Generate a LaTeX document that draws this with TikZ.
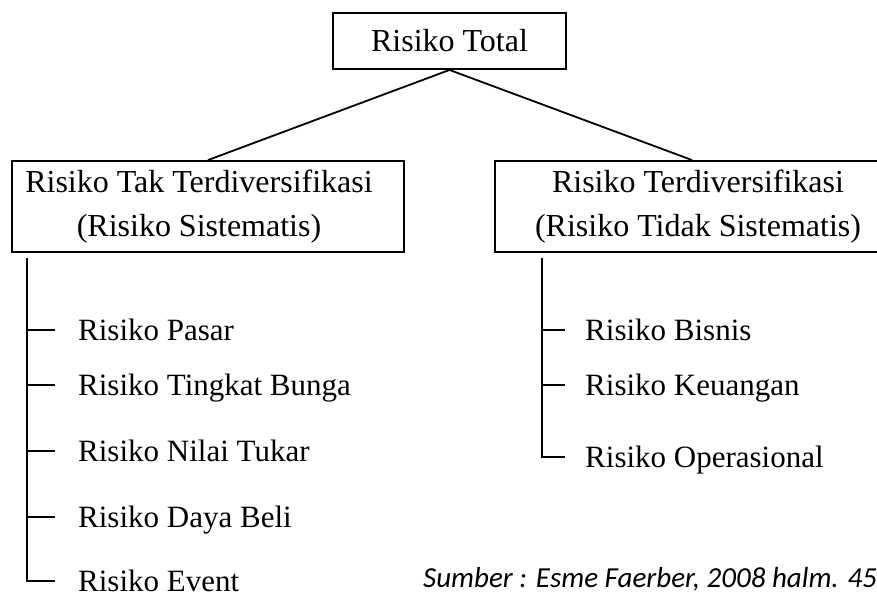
\documentclass[tikz,border=0pt]{standalone}
\usepackage{fontspec}
\setmainfont{Liberation Serif}
\newfontfamily\srcfont{Carlito}
\begin{document}
\begin{tikzpicture}[x=1pt,y=-1pt,
  box/.style={draw,line width=1.9pt,inner sep=0pt,align=center,
    font=\fontsize{32}{44}\selectfont},
  conn/.style={line width=1.8pt},
  tree/.style={line width=1.5pt},
  item/.style={anchor=west,inner sep=0pt,text height=21pt,text depth=0pt,
    font=\fontsize{31}{37}\selectfont}]
\useasboundingbox (0,0) rectangle (877,598);
\clip (0,0) rectangle (877,598);
\node[box,minimum width=233pt,minimum height=56pt] (total) at (449.5,41) {Risiko Total};
\node[box,minimum width=392pt,minimum height=91pt] (sys) at (208,206.5)
  {Risiko Tak Terdiversifikasi\hspace*{18pt}\\(Risiko Sistematis)\hspace*{18pt}};
\node[box,minimum width=394pt,minimum height=91pt] (unsys) at (692,206.5)
  {\hspace*{12pt}Risiko Terdiversifikasi\\\hspace*{12pt}(Risiko Tidak Sistematis)};
\draw[conn] (total.south) -- (sys.north);
\draw[conn] (total.south) -- (unsys.north);
% left list
\node[item] (l1) at (78,330) {Risiko Pasar};
\node[item] (l2) at (78,385) {Risiko Tingkat Bunga};
\node[item] (l3) at (78,451) {Risiko Nilai Tukar};
\node[item] (l4) at (78,517) {Risiko Daya Beli};
\node[item] (l5) at (78,581) {Risiko Event};
\coordinate (ltop) at (27,258);
\draw[tree] (ltop) |- ([xshift=-23pt]l5.west);
\foreach \n in {l1,l2,l3,l4}
  \draw[tree] ([xshift=-51pt]\n.west) -- ([xshift=-23pt]\n.west);
% right list
\node[item] (r1) at (585,330) {Risiko Bisnis};
\node[item] (r2) at (585,385) {Risiko Keuangan};
\node[item] (r3) at (585,457) {Risiko Operasional};
\coordinate (rtop) at (542,258);
\draw[tree] (rtop) |- ([xshift=-20pt]r3.west);
\foreach \n in {r1,r2}
  \draw[tree] ([xshift=-43pt]\n.west) -- ([xshift=-20pt]\n.west);
% source
\node[anchor=base west,inner sep=0pt,font=\srcfont\itshape\fontsize{29}{34}\selectfont]
  (src) at (423,587) {Sumber : Esme Faerber, 2008 halm. 45};
\end{tikzpicture}
\end{document}
